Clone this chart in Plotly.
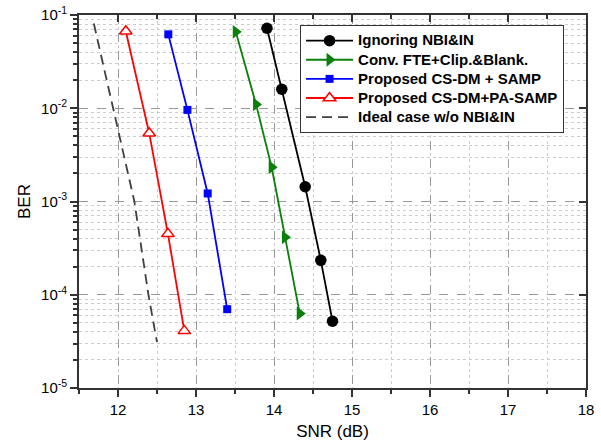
import plotly.graph_objects as go

# ---- data ----
snr_ignore = [13.91, 14.10, 14.40, 14.60, 14.75]
ber_ignore = [0.072, 0.0160, 1.44e-3, 2.34e-4, 5.2e-5]

snr_conv = [13.51, 13.77, 13.97, 14.14, 14.33]
ber_conv = [0.066, 0.0110, 2.33e-3, 4.13e-4, 6.3e-5]

snr_samp = [12.645, 12.89, 13.15, 13.40]
ber_samp = [0.062, 9.6e-3, 1.22e-3, 7.0e-5]

snr_pasamp = [12.10, 12.40, 12.64, 12.85]
ber_pasamp = [0.067, 5.4e-3, 4.5e-4, 4.1e-5]

snr_ideal = [11.69, 11.94, 12.21, 12.39, 12.50]
ber_ideal = [0.081, 1.0e-2, 1.0e-3, 1.0e-4, 3.1e-5]

series_names = ["Ignoring NBI&IN", "Conv. FTE+Clip.&Blank.", "Proposed CS-DM + SAMP",
                "Proposed CS-DM+PA-SAMP", "Ideal case w/o NBI&IN"]

x_ticks = [12, 13, 14, 15, 16, 17, 18]
y_ticks = [1e-5, 1e-4, 1e-3, 1e-2, 1e-1]
y_ticklabels = ["10<sup>-5</sup>", "10<sup>-4</sup>", "10<sup>-3</sup>",
                "10<sup>-2</sup>", "10<sup>-1</sup>"]
y_minor = [m * 10.0 ** e for e in range(-5, -1) for m in range(2, 10)]

FONT = "Liberation Sans, Arial, sans-serif"


def leg(name):
    return '<span style="font-size:15px">' + name + '</span>'


fig = go.Figure()
fig.add_trace(go.Scatter(x=snr_ignore, y=ber_ignore, mode="lines+markers",
                         name=leg(series_names[0]),
                         line=dict(color="black", width=1.8),
                         marker=dict(symbol="circle", size=11.5, color="black")))
fig.add_trace(go.Scatter(x=snr_conv, y=ber_conv, mode="lines+markers",
                         name=leg(series_names[1]),
                         line=dict(color="#0a800a", width=1.8),
                         marker=dict(symbol="triangle-right", size=12, color="#0a800a")))
fig.add_trace(go.Scatter(x=snr_samp, y=ber_samp, mode="lines+markers",
                         name=leg(series_names[2]),
                         line=dict(color="#0000ff", width=1.8),
                         marker=dict(symbol="square", size=8, color="#0000ff")))
fig.add_trace(go.Scatter(x=snr_pasamp, y=ber_pasamp, mode="lines+markers",
                         name=leg(series_names[3]),
                         line=dict(color="#ff0000", width=1.8),
                         marker=dict(symbol="triangle-up", size=11, color="white",
                                     line=dict(color="#ff0000", width=1.5))))
fig.add_trace(go.Scatter(x=snr_ideal, y=ber_ideal, mode="lines",
                         name=leg(series_names[4]),
                         line=dict(color="#404040", width=1.8, dash="10px,6px")))
# helper trace for the top/right inward tick axes
fig.add_trace(go.Scatter(x=[None], y=[None], xaxis="x2", yaxis="y2",
                         showlegend=False, hoverinfo="skip"))

fig.update_layout(
    width=601, height=444,
    margin=dict(l=79, r=15, t=15, b=56, autoexpand=False),
    paper_bgcolor="white", plot_bgcolor="white",
    font=dict(family=FONT, size=14, color="black"),
    showlegend=True,
    legend=dict(x=0.436, y=0.973, xanchor="left", yanchor="top",
                bgcolor="white", bordercolor="#333", borderwidth=1,
                font=dict(family=FONT, size=12.4, color="black", weight="bold"),
                itemwidth=47, tracegroupgap=0),
    xaxis=dict(range=[11.5, 18], tickvals=x_ticks, ticks="outside", ticklen=7,
               tickwidth=1.5, tickcolor="#333", automargin=False,
               ticklabeloverflow="allow",
               showline=True, linecolor="#333", linewidth=1.8, mirror=True,
               showgrid=True, gridcolor="#999", griddash="dash", gridwidth=1,
               zeroline=False,
               minor=dict(dtick=0.5, ticks="outside", ticklen=4, tickcolor="#333",
                          showgrid=True, gridcolor="#ccc", griddash="dot", gridwidth=1),
               title=dict(text="SNR (dB)", font=dict(size=17), standoff=8),
               tickfont=dict(size=15)),
    yaxis=dict(type="log", range=[-5, -1], tickvals=y_ticks, ticktext=y_ticklabels,
               ticks="outside", ticklen=7, tickwidth=1.5, tickcolor="#333",
               automargin=False, ticklabeloverflow="allow",
               showline=True, linecolor="#333", linewidth=1.8, mirror=True,
               showgrid=True, gridcolor="#999", griddash="dash", gridwidth=1,
               zeroline=False,
               minor=dict(tickvals=y_minor, ticks="outside", ticklen=4, tickcolor="#333",
                          showgrid=True, gridcolor="#ccc", griddash="dot", gridwidth=1),
               title=dict(text="BER", font=dict(size=17), standoff=6),
               tickfont=dict(size=15)),
    xaxis2=dict(overlaying="x", side="top", anchor="y2", range=[11.5, 18],
                tickvals=x_ticks, ticks="inside", ticklen=7, tickwidth=1.5,
                tickcolor="#333", showticklabels=False, showgrid=False,
                zeroline=False, automargin=False, showline=True,
                linecolor="#333", linewidth=1.8,
                minor=dict(dtick=0.5, ticks="inside", ticklen=4, tickcolor="#333",
                           showgrid=False)),
    yaxis2=dict(overlaying="y", side="right", anchor="x2", type="log", range=[-5, -1],
                tickvals=y_ticks, ticks="inside", ticklen=7, tickwidth=1.5,
                tickcolor="#333", showticklabels=False, showgrid=False,
                zeroline=False, automargin=False, showline=True,
                linecolor="#333", linewidth=1.8),
)

# remove the default 8px page margin so the 601x444 figure fills the window
fig.write_html("out.html", config={"displayModeBar": False},
               post_script="document.body.style.margin='0px';")
